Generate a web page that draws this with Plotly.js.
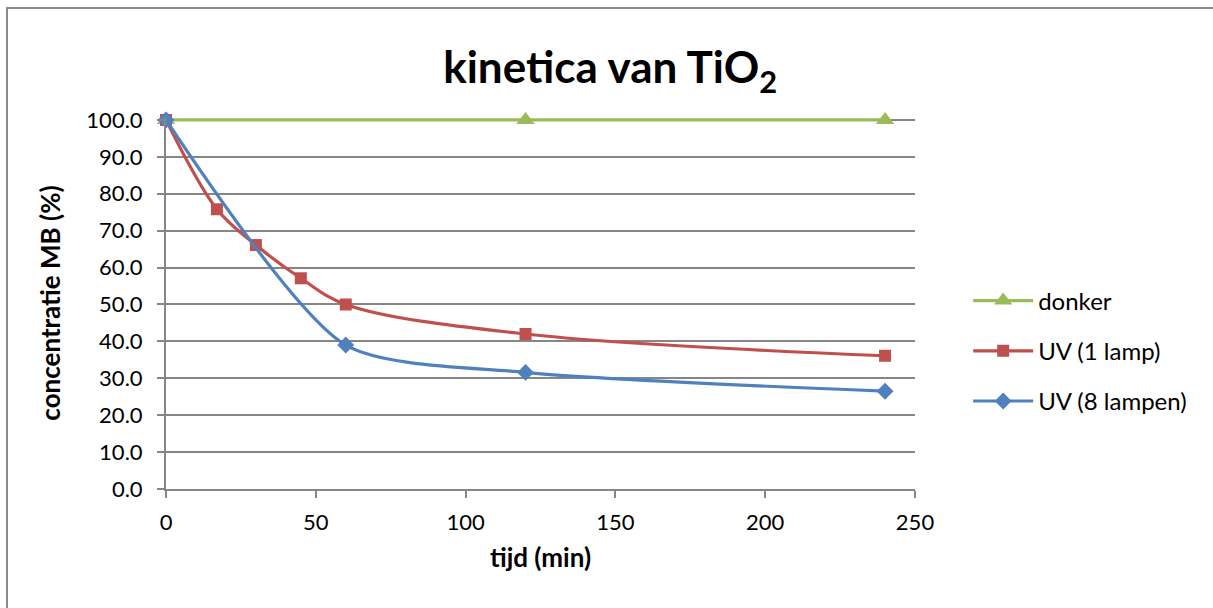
<!DOCTYPE html>
<html>
<head>
<meta charset="utf-8">
<script src="https://cdn.plot.ly/plotly-3.0.1.min.js"></script>
<style>
  html, body { margin: 0; padding: 0; background: #fff; }
  #wrap { position: relative; width: 1213px; height: 608px; overflow: hidden; }
  #chart { position: absolute; left: 0; top: 0; width: 1213px; height: 608px; }
  #frame { position: absolute; left: 6px; top: 7px; width: 1300px; height: 700px;
           border-left: 2px solid #8c8c8c; border-top: 2px solid #8c8c8c; pointer-events: none; }
</style>
</head>
<body>
<div id="wrap">
  <div id="chart"></div>
  <div id="frame"></div>
</div>
<script>
// Data
const donkerX = [0, 120, 240];
const donkerY = [100, 100, 100];

const uv1X = [0, 17, 30, 45, 60, 120, 240];
const uv1Y = [100, 75.8, 66.1, 57.1, 50.0, 42.0, 36.1];

const uv8X = [0, 60, 120, 240];
const uv8Y = [100, 39.0, 31.6, 26.5];

const seriesNames = ["donker", "UV (1 lamp)", "UV (8 lampen)"];
const xTicks = [0, 50, 100, 150, 200, 250];
const yTicks = [0, 10, 20, 30, 40, 50, 60, 70, 80, 90, 100];

const FONT = "Lato, 'Open Sans', 'Liberation Sans', sans-serif";

const traces = [
  {
    x: donkerX, y: donkerY, name: seriesNames[0], type: "scatter", mode: "lines+markers",
    legendgroup: "g1",
    line: { color: "#9BBB59", width: 3.2, shape: "spline", smoothing: 1 },
    marker: { symbol: "triangle-up", size: 16, color: "#9BBB59" },
    cliponaxis: false
  },
  {
    x: uv1X, y: uv1Y, name: seriesNames[1], type: "scatter", mode: "lines+markers",
    legendgroup: "g2",
    line: { color: "#C0504D", width: 3.2, shape: "spline", smoothing: 1 },
    marker: { symbol: "square", size: 12, color: "#C0504D" },
    cliponaxis: false
  },
  {
    x: uv8X, y: uv8Y, name: seriesNames[2], type: "scatter", mode: "lines+markers",
    legendgroup: "g3",
    line: { color: "#4F81BD", width: 3.2, shape: "spline", smoothing: 0.7 },
    marker: { symbol: "diamond", size: 13, color: "#4F81BD" },
    cliponaxis: false
  }
];

const layout = {
  width: 1213, height: 608,
  margin: { l: 166, r: 298, t: 117, b: 119 },
  paper_bgcolor: "#ffffff",
  plot_bgcolor: "#ffffff",
  font: { family: FONT, size: 22, color: "#000" },
  title: {
    text: "<b>kinetica van TiO<sub>2</sub></b>",
    font: { family: FONT, size: 44, color: "#000" },
    x: 0.503, xref: "container", xanchor: "center",
    y: 0.888, yref: "container", yanchor: "middle"
  },
  xaxis: {
    range: [0, 250],
    tickvals: xTicks,
    ticktext: xTicks.map(String),
    showgrid: false,
    zeroline: false,
    showline: true, linecolor: "#868686", linewidth: 2,
    ticks: "outside", ticklen: 7, tickcolor: "#868686", tickwidth: 2,
    ticklabelstandoff: 6,
    tickfont: { family: FONT, size: 22, color: "#000" },
    title: { text: "<b>tijd (min)</b>", font: { family: FONT, size: 26, color: "#000" }, standoff: 14 },
    fixedrange: true
  },
  yaxis: {
    range: [0, 100.8],
    tickvals: yTicks,
    ticktext: yTicks.map(v => v.toFixed(1)),
    showgrid: true, gridcolor: "#868686", gridwidth: 2,
    zeroline: false,
    showline: true, linecolor: "#868686", linewidth: 2,
    ticks: "outside", ticklen: 7, tickcolor: "#868686", tickwidth: 2,
    ticklabelstandoff: 10,
    tickfont: { family: FONT, size: 22, color: "#000" },
    title: { text: "<b>concentratie MB (%)</b>", font: { family: FONT, size: 26, color: "#000" }, standoff: 18 },
    fixedrange: true
  },
  legend: {
    x: 1.071, xanchor: "left",
    y: 0.371, yanchor: "middle",
    font: { family: FONT, size: 24, color: "#000" },
    itemwidth: 60,
    traceorder: "grouped",
    tracegroupgap: 16,
    bgcolor: "rgba(0,0,0,0)"
  },
  showlegend: true
};

Plotly.newPlot("chart", traces, layout, { displayModeBar: false, staticPlot: true });
</script>
</body>
</html>
